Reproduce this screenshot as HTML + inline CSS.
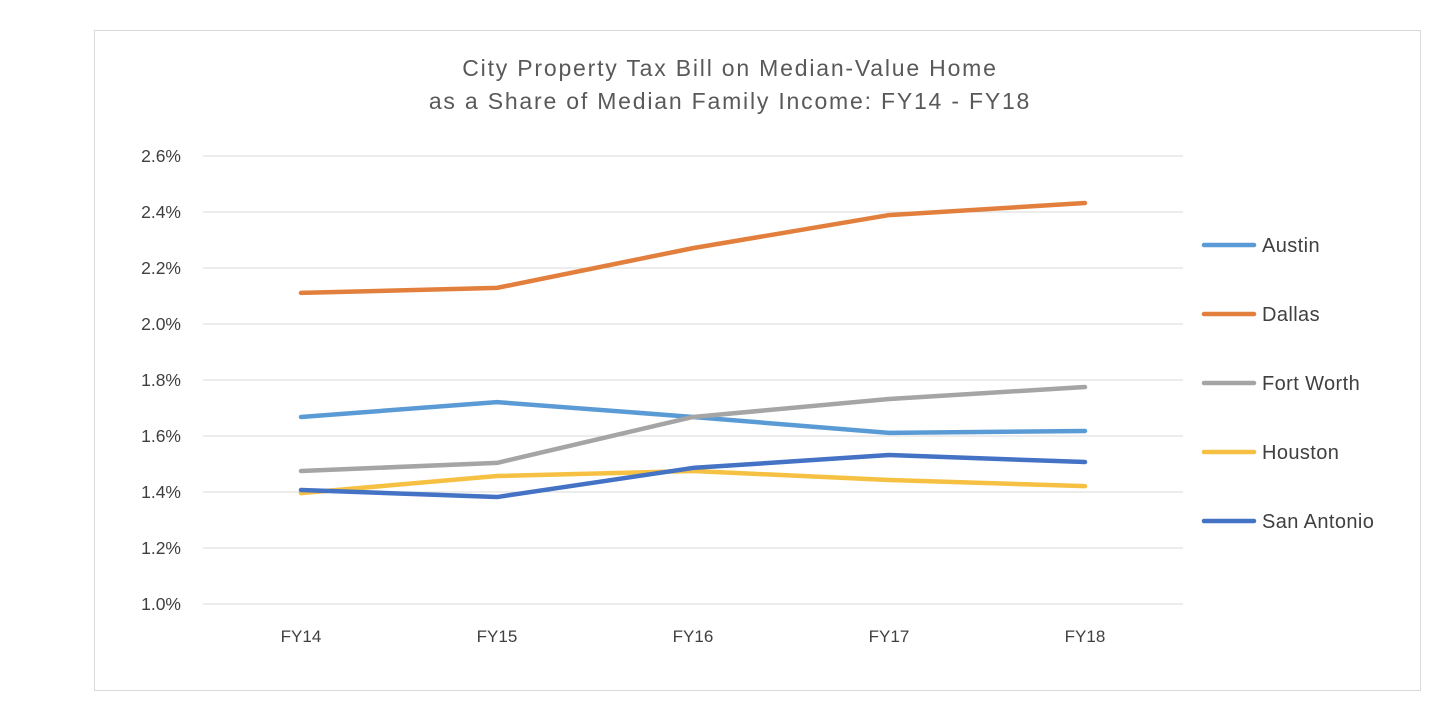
<!DOCTYPE html>
<html><head><meta charset="utf-8"><style>
body{margin:0;background:#fff;width:1446px;height:712px;overflow:hidden;font-family:"Liberation Sans",sans-serif;}
svg{position:absolute;left:0;top:0}
</style></head><body>
<svg width="1446" height="712">
<rect x="94.5" y="30.5" width="1326" height="660" fill="#fff" stroke="#d9d9d9"/>
<text x="730" y="76" text-anchor="middle" font-size="23" letter-spacing="1.8" fill="#595959">City Property Tax Bill on Median-Value Home</text>
<text x="730" y="109" text-anchor="middle" font-size="23" letter-spacing="1.8" fill="#595959">as a Share of Median Family Income: FY14 - FY18</text>
<g id="grid"></g><g id="xt"></g><g id="lines"></g><g id="legend"></g>
</svg>
<script>
const categories=["FY14","FY15","FY16","FY17","FY18"];
const seriesNames=["Austin","Dallas","Fort Worth","Houston","San Antonio"];
const austin=[1.668,1.721,1.668,1.611,1.618];
const dallas=[2.111,2.129,2.271,2.389,2.432];
const fortWorth=[1.475,1.504,1.668,1.732,1.775];
const houston=[1.396,1.457,1.475,1.443,1.421];
const sanAntonio=[1.407,1.382,1.486,1.532,1.507];
const yTicks=[1.0,1.2,1.4,1.6,1.8,2.0,2.2,2.4,2.6];
const colors=["#5b9bd5","#e27f3d","#a5a5a5","#f6c142","#4472c4"];
const NS="http://www.w3.org/2000/svg";
const x0=203,x1=1183,yTop=156,yBot=604,yMin=1.0,yMax=2.6;
const band=(x1-x0)/categories.length;
const xs=i=>x0+band*(i+0.5);
const ys=v=>yBot-(v-yMin)/(yMax-yMin)*(yBot-yTop);
function mk(t,a,p){const e=document.createElementNS(NS,t);for(const k in a)e.setAttribute(k,a[k]);p.appendChild(e);return e;}
const grid=document.getElementById('grid');
yTicks.forEach(v=>{
 const l=mk('line',{x1:x0,x2:x1,y1:ys(v),y2:ys(v),stroke:'#d9d9d9','stroke-width':1},grid);
 
 
 const t=mk('text',{x:x0-22,y:ys(v)+6,'text-anchor':'end','font-size':17.5,fill:'#404040'},grid);
 t.textContent=v.toFixed(1)+'%';
 
 
});
const xt=document.getElementById('xt');
categories.forEach((c,i)=>{
 const t=mk('text',{x:xs(i),y:642,'text-anchor':'middle','font-size':17,fill:'#404040'},xt);
 t.textContent=c;
 
 
});
const data=[austin,dallas,fortWorth,houston,sanAntonio];
const lines=document.getElementById('lines');
const order=[3,0,2,4,1];
order.forEach(k=>{
 const pts=data[k].map((v,i)=>xs(i)+','+ys(v)).join(' ');
 const p=mk('polyline',{points:pts,fill:'none',stroke:colors[k],'stroke-width':4.5,'stroke-linejoin':'round','stroke-linecap':'round'},lines);
 
 
});
const lg=document.getElementById('legend');
seriesNames.forEach((n,k)=>{
 const y=245+k*69;
 const g=mk('g',{},lg);
 
 
 mk('line',{x1:1204,x2:1254,y1:y,y2:y,stroke:colors[k],'stroke-width':4.5,'stroke-linecap':'round'},g);
 const t=mk('text',{x:1262,y:y+7,'font-size':20,'letter-spacing':0.4,fill:'#404040'},g);
 t.textContent=n;
});
</script>
</body></html>
